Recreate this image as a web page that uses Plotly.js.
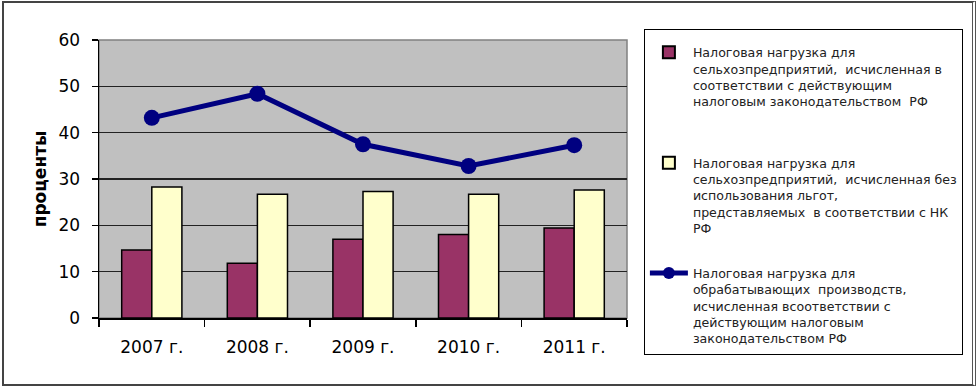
<!DOCTYPE html>
<html>
<head>
<meta charset="utf-8">
<script src="https://cdn.plot.ly/plotly-3.0.1.min.js"></script>
<style>
  html, body { margin: 0; padding: 0; background: #fff; }
  #wrap { position: absolute; left: 0; top: 0; width: 976px; height: 386px; }
  #chart { position: absolute; left: 0; top: 0; width: 976px; height: 386px; }
  #frame { position: absolute; left: 2px; top: 1px; width: 968px; height: 381px; border: 2px solid #444; border-right: 4px double #555; pointer-events: none; }
</style>
</head>
<body>
<div id="wrap"><div id="chart"></div><div id="frame"></div></div>
<script>
const categories = ["2007 г.", "2008 г.", "2009 г.", "2010 г.", "2011 г."];
const currentLawAgri = [14.7, 11.8, 17.0, 18.0, 19.4];
const noBenefitsAgri = [28.3, 26.7, 27.3, 26.7, 27.6];
const manufacturing = [43.2, 48.4, 37.5, 32.8, 37.3];
const yTicks = [0, 10, 20, 30, 40, 50, 60];
const names = [
  "Налоговая нагрузка для<br>сельхозпредприятий,  исчисленная в<br>соответствии с действующим<br>налоговым законодательством  РФ<br> <br> ",
  "Налоговая нагрузка для<br>сельхозпредприятий,  исчисленная без<br>использования льгот,<br>представляемых  в соответствии с НК<br>РФ<br> ",
  "Налоговая нагрузка для<br>обрабатывающих  производств,<br>исчисленная всоответствии с<br>действующим налоговым<br>законодательством РФ"
];

const traces = [
  { type: "bar", x: categories, y: currentLawAgri, name: names[0], legendgroup: "a",
    marker: { color: "#993366", line: { color: "#000", width: 1.5 } } },
  { type: "bar", x: categories, y: noBenefitsAgri, name: names[1], legendgroup: "b",
    marker: { color: "#ffffcc", line: { color: "#000", width: 1.5 } } },
  { type: "scatter", mode: "lines+markers", x: categories, y: manufacturing, name: names[2], legendgroup: "c",
    line: { color: "#000080", width: 5 }, marker: { color: "#000080", size: 16 } }
];

const layout = {
  width: 976, height: 386,
  margin: { l: 99, r: 349, t: 40, b: 68, autoexpand: false },
  paper_bgcolor: "#ffffff",
  plot_bgcolor: "#c0c0c0",
  font: { family: "DejaVu Sans, Liberation Sans, Arial, sans-serif", color: "#000" },
  barmode: "group",
  bargap: 0.43,
  bargroupgap: 0,
  showlegend: true,
  legend: {
    x: 1.032, xanchor: "left", y: 1.04, yanchor: "top",
    bgcolor: "#ffffff", bordercolor: "#000", borderwidth: 1,
    font: { family: "DejaVu Sans, sans-serif", size: 12.6, color: "#222" },
    title: { text: " ", font: { size: 6 } },
    valign: "top", traceorder: "grouped", tracegroupgap: 9,
    itemwidth: 38, itemsizing: "constant", maxheight: 360
  },
  xaxis: {
    type: "category",
    showline: true, linecolor: "#000", linewidth: 1.5,
    ticks: "outside", tickson: "boundaries", ticklen: 7, tickcolor: "#000", tickwidth: 1.5,
    tickfont: { family: "DejaVu Sans, sans-serif", size: 17, color: "#000" },
    ticklabelstandoff: 13,
    showgrid: false, zeroline: false
  },
  yaxis: {
    range: [0, 60], tickvals: yTicks, ticktext: yTicks.map(String),
    showline: true, linecolor: "#000", linewidth: 1.5,
    ticks: "outside", ticklen: 6, tickcolor: "#000", tickwidth: 1.5,
    tickfont: { family: "DejaVu Sans, sans-serif", size: 17, color: "#000" },
    ticklabelstandoff: 8,
    showgrid: true, gridcolor: "#222", gridwidth: 1.2, zeroline: false,
    title: { text: "<b>проценты</b>", font: { family: "DejaVu Sans, sans-serif", size: 17, color: "#000" }, standoff: 7 }
  },
  shapes: [
    { type: "rect", xref: "paper", yref: "paper", x0: 0, x1: 1, y0: 0, y1: 1,
      line: { color: "#808080", width: 1.5 }, layer: "below" }
  ]
};

Plotly.newPlot("chart", traces, layout, { displayModeBar: false, staticPlot: true });
</script>
</body>
</html>
